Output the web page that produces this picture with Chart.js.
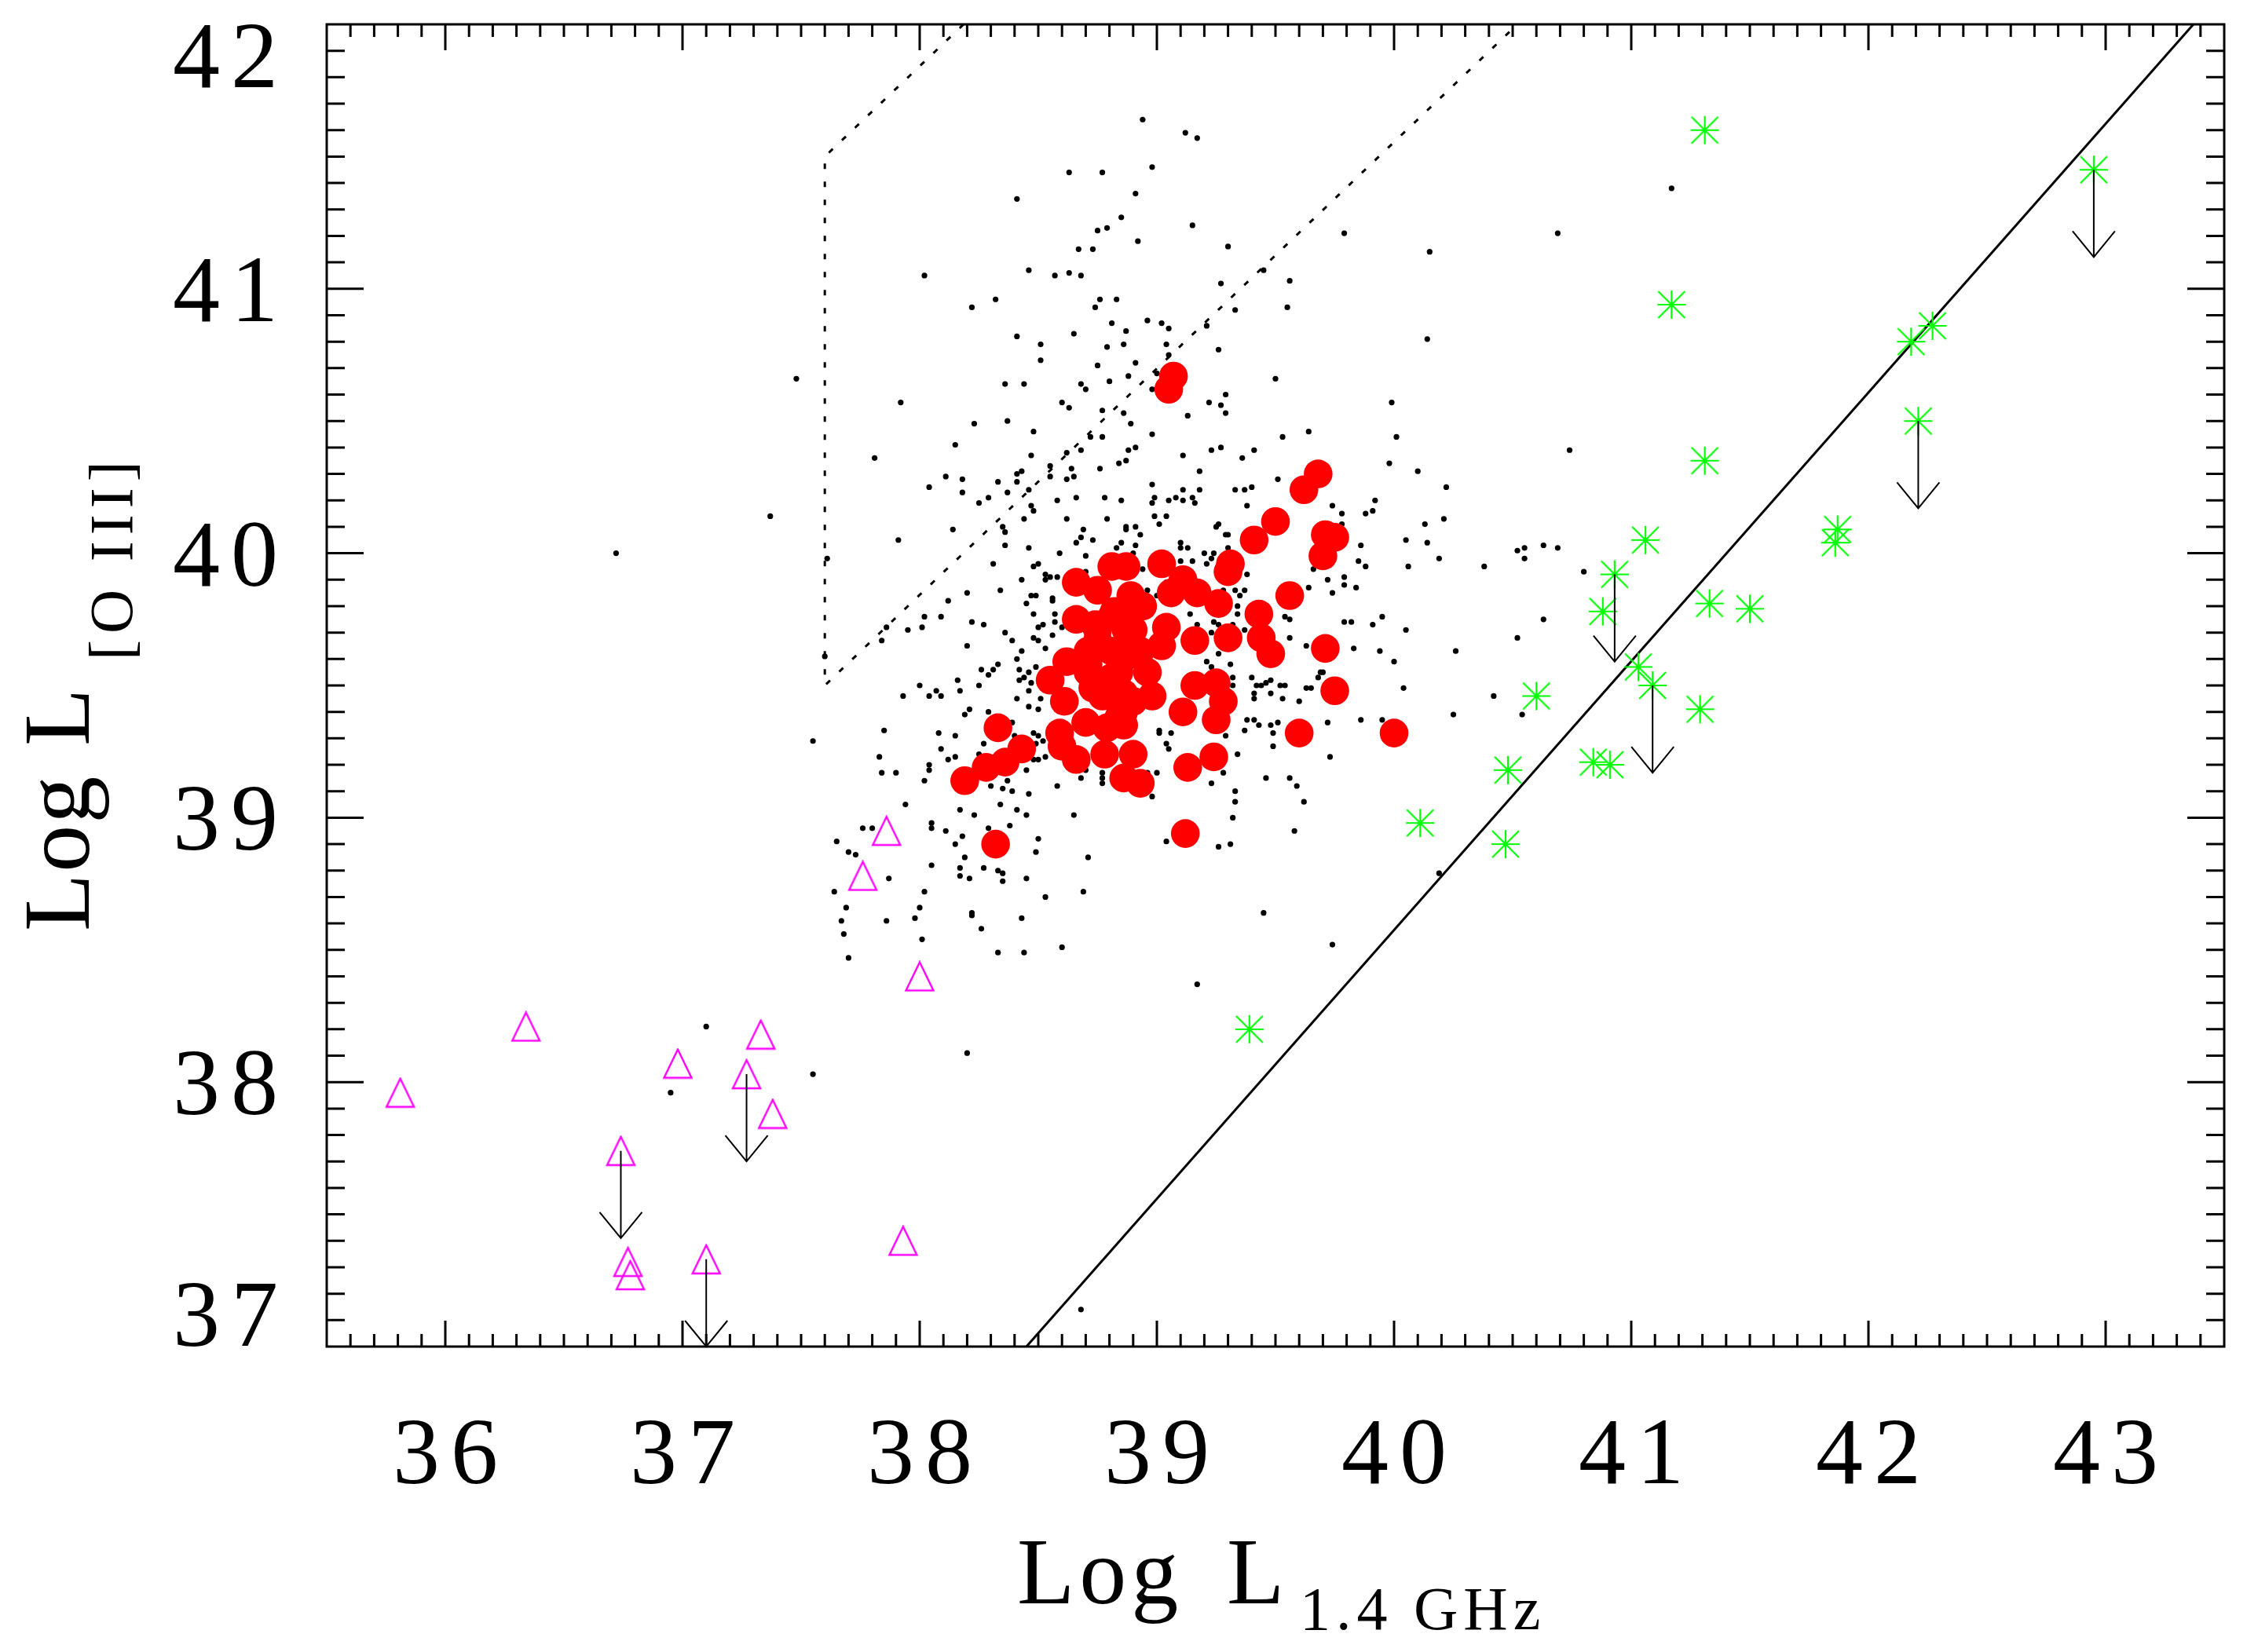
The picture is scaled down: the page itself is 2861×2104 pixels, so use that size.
<!DOCTYPE html>
<html>
<head>
<meta charset="utf-8">
<title>Log L[O III] vs Log L1.4GHz</title>
<script src="https://cdn.jsdelivr.net/npm/chart.js@4.4.1/dist/chart.umd.min.js"></script>
<style>
    html, body { margin: 0; padding: 0; background: #ffffff; }
    #wrap { width: 2861px; height: 2104px; }
</style>
</head>
<body>
<div id="wrap"><canvas id="chart" width="2861" height="2104"></canvas></div>
<script>
// Axis ranges and tick labels
const xRange = [35.5, 43.5];
const yRange = [37, 42];
const xTickLabels = ['36', '37', '38', '39', '40', '41', '42', '43'];
const yTickLabels = ['37', '38', '39', '40', '41', '42'];

// Black dots: comparison sample [log L1.4GHz, log L[OIII]]
const blackPts = [
    [38.94,41.64],[38.63,41.44],[38.77,41.44],[38.98,41.46],[38.91,41.36],[38.41,41.34],[38.85,41.27],[38.75,41.22],
    [38.79,41.23],[38.92,41.18],[38.67,41.15],[38.73,41.15],[38.02,41.05],[38.46,41.07],[38.57,41.05],[38.63,41.06],
    [38.68,41.05],[38.32,40.96],[38.22,40.93],[38.76,40.96],[38.83,40.96],[38.74,40.93],[38.96,40.88],[39.02,40.87],
    [39.05,40.85],[38.81,40.87],[38.87,40.84],[38.65,40.83],[38.41,40.82],[38.51,40.79],[38.79,40.78],[38.86,40.79],
    [39.04,40.79],[39.05,40.75],[38.51,40.73],[38.91,40.72],[38.75,40.71],[39.00,40.68],[38.88,40.67],[38.80,40.65],
    [37.48,40.66],[38.36,40.64],[38.44,40.64],[38.68,40.64],[38.70,40.62],[38.98,40.62],[37.92,40.57],[38.60,40.57],
    [38.63,40.55],[38.77,40.54],[38.86,40.53],[38.89,40.49],[38.23,40.49],[38.37,40.50],[38.48,40.46],[38.72,40.44],
    [38.77,40.44],[38.98,40.45],[38.15,40.41],[37.81,40.36],[38.62,40.38],[38.68,40.39],[38.88,40.39],[38.91,40.40],
    [38.47,40.37],[38.55,40.33],[38.64,40.32],[38.76,40.32],[38.84,40.34],[38.87,40.35],[38.41,40.30],[38.43,40.31],
    [38.11,40.29],[38.18,40.28],[38.04,40.25],[38.33,40.27],[38.41,40.27],[38.55,40.29],[38.62,40.28],[38.65,40.29],
    [38.98,40.26],[38.18,40.23],[38.37,40.23],[38.46,40.24],
    [39.12,41.59],[39.17,41.57],[39.15,41.24],[39.30,41.16],[39.79,41.21],[40.69,41.21],[40.15,41.14],[39.45,41.07],
    [39.27,41.02],[39.56,41.03],[39.33,40.92],[39.55,40.93],[39.21,40.86],[40.14,40.81],[39.26,40.77],[39.50,40.66],
    [39.29,40.60],[39.22,40.57],[39.27,40.56],[39.29,40.53],[39.13,40.52],[39.99,40.57],[39.53,40.44],[39.64,40.46],
    [40.01,40.44],[40.74,40.39],[39.11,40.37],[39.23,40.39],[39.27,40.40],[39.36,40.36],[39.41,40.39],[39.18,40.31],
    [39.98,40.34],[40.10,40.31],[39.51,40.28],[39.11,40.24],[39.18,40.24],[39.33,40.24],[39.37,40.24],[39.40,40.25],
    [40.22,40.25],
    [38.25,40.19],[38.29,40.21],[38.58,40.20],[38.66,40.21],[38.78,40.21],[38.85,40.20],[38.99,40.21],[39.05,40.20],
    [38.98,40.19],[39.08,40.21],[38.47,40.18],[38.48,40.16],[38.44,40.13],[38.62,40.13],[38.79,40.13],[38.99,40.14],
    [39.04,40.14],[39.01,40.11],[38.14,40.09],[37.91,40.05],[38.35,40.10],[38.36,40.08],[38.69,40.09],[38.68,40.06],
    [38.87,40.10],[38.91,40.10],[38.93,40.07],[38.87,40.09],[38.66,40.04],[38.73,40.05],[38.85,40.04],[38.91,40.03],
    [38.36,40.03],[38.46,40.02],[38.59,40.00],[38.70,39.99],[38.83,40.02],[38.90,40.00],[37.61,39.98],[38.31,39.96],
    [38.48,39.95],[38.50,39.96],[38.70,39.93],[38.94,39.94],[38.53,39.92],[38.55,39.91],[38.58,39.91],[38.53,39.90],
    [38.43,39.90],[39.04,39.89],[38.34,39.86],[38.20,39.85],[38.96,39.86],[38.47,39.84],[38.49,39.84],[38.45,39.81],
    [38.56,39.83],[38.56,39.82],[39.00,39.84],[38.12,39.82],[38.48,39.77],[38.57,39.77],[38.02,39.76],[38.09,39.76],
    [38.22,39.74],[38.27,39.73],[38.57,39.74],[38.52,39.73],[37.95,39.71],[38.01,39.72],[38.50,39.72],[38.60,39.72],
    [37.86,39.72],[37.84,39.67],[38.36,39.70],[38.39,39.67],[38.56,39.69],[38.48,39.68],[38.50,39.67],[38.20,39.65],
    [38.43,39.63],[38.53,39.64],[37.60,39.61],[38.41,39.60],[38.49,39.57],[38.33,39.58],[38.26,39.56],[38.31,39.56],
    [38.29,39.54],[38.42,39.56],[38.46,39.55],[38.42,39.52],[38.44,39.53],[38.16,39.52],[38.00,39.50],[38.25,39.50],
    [38.47,39.51],[38.07,39.48],[38.04,39.46],[38.09,39.46],[37.93,39.46],[38.17,39.48],[38.46,39.48],[38.41,39.45],
    [38.51,39.45],[38.46,39.42],[38.50,39.41],[38.70,39.46],[38.21,39.41],[38.19,39.39],[38.29,39.40],[38.39,39.36],
    [38.40,39.31],[38.48,39.32],[38.50,39.31],[39.01,39.33],[39.01,39.32],[39.06,39.32],[37.85,39.33],[38.08,39.32],
    [38.15,39.31],[38.27,39.28],[38.52,39.29],[38.49,39.28],[39.04,39.28],[39.05,39.26],[37.55,39.29],[37.83,39.23],
    [38.09,39.26],[38.15,39.23],[38.12,39.22],[38.25,39.24],[38.04,39.20],[38.04,39.18],[37.84,39.17],[37.90,39.17],
    [38.02,39.14],[38.48,39.22],[38.50,39.22],[38.53,39.23],[38.45,39.18],[38.70,39.18],[38.68,39.15],[38.77,39.17],
    [38.77,39.15],[38.77,39.13],[38.96,39.17],[39.00,39.17],[38.98,39.08],[38.30,39.12],[38.37,39.14],[38.35,39.11],
    [38.39,39.10],[38.46,39.09],[38.58,39.12],[37.94,39.05],[38.17,39.03],[38.23,39.01],[38.34,39.05],[38.41,39.03],
    [38.45,39.01],[38.65,39.01],[38.05,38.98],[38.05,38.96],[38.11,38.95],[37.76,38.96],[37.80,38.96],[38.18,38.93],
    [38.15,38.90],[38.29,38.96],[38.38,38.97],[38.50,38.92],[39.04,38.91],[37.65,38.91],[37.70,38.87],[37.73,38.86],
    [38.49,38.87],[38.19,38.85],[38.71,38.85],[38.05,38.82],[38.17,38.81],[38.27,38.81],[38.33,38.80],[38.35,38.79],
    [37.87,38.77],[38.17,38.78],[38.21,38.77],[38.35,38.76],[38.45,38.77],
    [39.11,40.20],[39.15,40.21],[39.16,40.19],[39.38,40.18],[39.74,40.18],[39.78,40.15],[39.88,40.15],[39.91,40.16],
    [39.92,40.20],[40.21,40.13],[40.13,40.11],[39.78,40.11],[39.25,40.10],[39.26,40.11],[39.29,40.07],[39.30,40.07],
    [39.10,40.04],[39.10,40.02],[39.13,40.02],[39.20,40.00],[39.24,40.00],[39.23,39.98],[39.30,40.02],[39.21,39.96],
    [39.10,39.97],[39.15,39.97],[39.86,40.03],[39.85,39.97],[39.88,39.95],[40.05,40.05],[40.14,40.04],[40.19,39.98],
    [40.06,39.95],[40.38,39.95],[40.52,40.01],[40.55,40.02],[40.55,39.98],[40.63,40.03],[40.69,40.02],[39.66,39.94],
    [39.38,39.92],[39.72,39.90],[39.79,39.91],[39.79,39.88],[39.84,39.87],[39.74,39.85],[39.64,39.87],[39.33,39.86],
    [39.37,39.86],[39.35,39.84],[39.34,39.80],[39.34,39.77],[39.28,39.86],[39.14,39.77],[39.17,39.73],[39.24,39.74],
    [39.26,39.73],[39.32,39.73],[39.37,39.71],[39.23,39.70],[39.54,39.76],[39.56,39.75],[39.56,39.68],[39.63,39.65],
    [39.79,39.74],[39.82,39.74],[39.91,39.73],[39.95,39.76],[40.05,39.71],[39.83,39.64],[39.94,39.63],[40.00,39.59],
    [40.26,39.63],[40.52,39.68],[40.63,39.75],[39.26,39.62],[39.21,39.59],[39.23,39.57],[39.31,39.58],[39.40,39.53],
    [39.32,39.53],[39.32,39.50],[39.42,39.50],[39.44,39.50],[39.46,39.51],[39.48,39.52],[39.52,39.50],[39.54,39.50],
    [39.48,39.47],[39.41,39.47],[39.41,39.45],[39.53,39.45],[39.60,39.44],[39.63,39.49],[39.65,39.49],[39.68,39.53],
    [39.69,39.55],[39.70,39.55],[40.04,39.49],[40.42,39.46],[40.25,39.39],[40.54,39.39],[39.86,39.37],[39.95,39.37],
    [39.72,39.36],[39.38,39.37],[39.41,39.37],[39.43,39.35],[39.48,39.35],[39.51,39.36],[39.49,39.32],[39.37,39.33],
    [39.29,39.31],[39.49,39.27],[39.73,39.23],[39.34,39.24],[39.28,39.17],[39.23,39.13],[39.46,39.15],[39.56,39.15],
    [39.59,39.12],[39.33,39.10],[39.33,39.06],[39.62,39.06],[39.32,39.00],[39.58,38.95],[39.26,38.89],[39.31,38.90],
    [40.19,38.79],
    [37.64,38.72],[37.69,38.66],[37.67,38.61],[37.68,38.56],[37.70,38.47],[37.86,38.61],[37.98,38.62],[38.00,38.66],
    [38.02,38.72],[38.01,38.54],[38.22,38.64],[38.22,38.63],[38.26,38.58],[38.43,38.62],[38.53,38.70],[38.69,38.72],
    [38.33,38.49],[38.44,38.49],[38.60,38.51],[38.20,38.11],[37.55,38.03],
    [39.45,38.64],[39.74,38.52],[39.17,38.37],
    [37.10,38.21],[36.95,37.96],[36.72,40.00],[37.37,40.14],[41.17,41.38],[40.80,39.93],[38.68,37.14]
];

// Red filled circles: main sample
const redPts = [
    [39.50,40.12],[39.41,40.05],[39.71,40.07],[39.75,40.06],[39.70,39.99],[39.31,39.96],[39.30,39.93],[39.11,39.90],
    [39.17,39.85],[39.26,39.81],[39.56,39.84],[39.43,39.77],[39.16,39.67],[39.30,39.68],[39.44,39.68],[39.48,39.62],
    [39.71,39.64],[39.16,39.50],[39.25,39.51],[39.28,39.44],[39.11,39.40],[39.25,39.37],[39.75,39.48],[39.60,39.32],
    [40.00,39.32],[39.13,39.19],[39.24,39.23],[39.12,38.94],
    [38.33,39.34],[38.19,39.14],[38.28,39.19],[38.36,39.21],[38.43,39.26],[38.32,38.90],[38.55,39.52],[38.61,39.44],
    [38.59,39.32],[38.60,39.27],[38.66,39.22],[38.70,39.36],[38.79,39.34],[38.78,39.24],[38.86,39.35],[38.90,39.24],
    [38.86,39.15],[38.93,39.13],[38.81,39.95],[38.87,39.95],[39.02,39.96],[38.66,39.89],[38.75,39.86],[38.89,39.84],
    [38.94,39.80],[38.82,39.78],[38.66,39.75],[38.87,39.71],[38.74,39.73],[38.75,39.67],[38.87,39.61],[38.62,39.59],
    [38.71,39.58],[38.81,39.53],[38.73,39.49],[38.77,39.46],[38.86,39.47],[38.98,39.46],[38.86,39.40],[39.06,39.85],
    [39.02,39.65],[39.04,39.72],
    [38.75,39.71],[38.81,39.63],[38.90,39.71],[38.84,39.55],[38.71,39.55],[38.78,39.47],[38.90,39.44],[38.96,39.55],
    [38.93,39.63],[38.71,39.63],[38.87,39.79],[38.81,39.76],[38.84,39.38],
    [39.05,40.62],[39.07,40.67],[39.68,40.30],[39.62,40.24]
];

// Green asterisks: [x, y, upper limit flag]
const greenPts = [
    [41.31,41.60,0],[41.17,40.94,0],[42.95,41.45,1],[42.27,40.86,0],[42.18,40.80,0],[42.21,40.50,1],
    [41.31,40.35,0],[41.87,40.09,0],[41.86,40.04,0],[41.06,40.05,0],[40.93,39.92,1],[40.88,39.78,0],
    [41.33,39.81,0],[41.50,39.79,0],[41.03,39.57,0],[41.09,39.50,1],[41.29,39.41,0],[40.84,39.21,0],
    [40.91,39.20,0],[40.48,39.18,0],[40.47,38.90,0],[40.11,38.98,0],[40.60,39.46,0],[39.39,38.20,0]
];

// Magenta open triangles: [x, y, upper limit flag]
const magentaPts = [
    [35.81,37.96,0],[36.34,38.21,0],[36.98,38.07,0],[37.33,38.18,0],[37.27,38.03,1],[37.38,37.88,0],
    [36.74,37.74,1],[36.77,37.32,0],[36.78,37.27,0],[37.10,37.33,1],[37.93,37.40,0],[38.00,38.40,0],
    [37.76,38.78,0],[37.86,38.95,0]
];

// Reference lines
const solidLineX = [38.45, 43.37];
const solidLineY = [37, 42];
const dottedBoxX = [38.185, 37.6, 37.6, 40.52];
const dottedBoxY = [42, 41.5, 39.5, 42];

// Length of the upper-limit arrows, in dex
const ARROW_DEX = 0.33;

const SERIF = '"Liberation Serif", "DejaVu Serif", serif';

function toXY(list) {
    return list.map(p => ({ x: p[0], y: p[1] }));
}

function zipXY(xs, ys) {
    return xs.map((x, i) => ({ x: x, y: ys[i] }));
}

// Asterisk marker (plus and cross)
function makeStar() {
    const c = document.createElement('canvas');
    c.width = 40; c.height = 40;
    const g = c.getContext('2d');
    g.strokeStyle = '#00ff00';
    g.lineWidth = 2.2;
    g.beginPath();
    g.moveTo(2, 20); g.lineTo(38, 20);
    g.moveTo(20, 2); g.lineTo(20, 38);
    g.moveTo(3, 3); g.lineTo(37, 37);
    g.moveTo(37, 3); g.lineTo(3, 37);
    g.stroke();
    return c;
}

// Open triangle marker
function makeTriangle() {
    const c = document.createElement('canvas');
    c.width = 40; c.height = 40;
    const g = c.getContext('2d');
    g.strokeStyle = '#ff00ff';
    g.lineWidth = 2.4;
    g.beginPath();
    g.moveTo(20, 2);
    g.lineTo(37.5, 38);
    g.lineTo(2.5, 38);
    g.closePath();
    g.stroke();
    return c;
}

function setSpacing(ctx, px) {
    if ('letterSpacing' in ctx) ctx.letterSpacing = px + 'px';
}

// Upper-limit arrows
const arrowPlugin = {
    id: 'arrows',
    afterDatasetsDraw(chart) {
        const ctx = chart.ctx;
        const xs = chart.scales.x, ys = chart.scales.y;
        const limits = greenPts.concat(magentaPts).filter(p => p[2] === 1);
        ctx.save();
        ctx.strokeStyle = '#000000';
        ctx.lineWidth = 2;
        limits.forEach(p => {
            const px = xs.getPixelForValue(p[0]);
            const py = ys.getPixelForValue(p[1]);
            const ey = ys.getPixelForValue(p[1] - ARROW_DEX);
            ctx.beginPath();
            ctx.moveTo(px, py);
            ctx.lineTo(px, ey);
            ctx.moveTo(px - 27, ey - 33);
            ctx.lineTo(px, ey);
            ctx.lineTo(px + 27, ey - 33);
            ctx.stroke();
        });
        ctx.restore();
    }
};

// Frame, inward ticks, tick labels and axis titles
const framePlugin = {
    id: 'frame',
    afterDraw(chart) {
        const ctx = chart.ctx;
        const a = chart.chartArea;
        const xs = chart.scales.x, ys = chart.scales.y;
        ctx.save();
        ctx.strokeStyle = '#000000';
        ctx.lineWidth = 3;
        ctx.strokeRect(a.left, a.top, a.right - a.left, a.bottom - a.top);

        // x ticks every 0.1, major at integers
        for (let i = Math.round(xRange[0] * 10) + 1; i < Math.round(xRange[1] * 10); i++) {
            const px = xs.getPixelForValue(i / 10);
            const len = (i % 10 === 0) ? 33 : 16;
            ctx.beginPath();
            ctx.moveTo(px, a.bottom); ctx.lineTo(px, a.bottom - len);
            ctx.moveTo(px, a.top); ctx.lineTo(px, a.top + len);
            ctx.stroke();
        }
        // y ticks every 0.1, major at integers
        for (let i = Math.round(yRange[0] * 10) + 1; i < Math.round(yRange[1] * 10); i++) {
            const py = ys.getPixelForValue(i / 10);
            const len = (i % 10 === 0) ? 47 : 23;
            ctx.beginPath();
            ctx.moveTo(a.left, py); ctx.lineTo(a.left + len, py);
            ctx.moveTo(a.right, py); ctx.lineTo(a.right - len, py);
            ctx.stroke();
        }

        ctx.fillStyle = '#000000';
        ctx.font = '120px ' + SERIF;
        setSpacing(ctx, 14);

        // x tick labels
        ctx.textAlign = 'center';
        ctx.textBaseline = 'alphabetic';
        xTickLabels.forEach(t => {
            const px = xs.getPixelForValue(parseFloat(t));
            ctx.fillText(t, px + 7, 1889);
        });

        // y tick labels (end labels kept inside the frame height)
        ctx.textAlign = 'right';
        yTickLabels.forEach(t => {
            const v = parseFloat(t);
            let base = ys.getPixelForValue(v) + 41;
            if (v === yRange[1]) base = a.top + 80;
            if (v === yRange[0]) base = a.bottom - 1;
            ctx.fillText(t, 368, base);
        });

        // x axis title
        ctx.textAlign = 'left';
        setSpacing(ctx, 6);
        ctx.fillText('Log', 1295, 2042);
        ctx.fillText('L', 1562, 2042);
        ctx.font = '78px ' + SERIF;
        setSpacing(ctx, 7);
        ctx.fillText('1.4 GHz', 1655, 2075);

        // y axis title (rotated)
        ctx.translate(113, 1186);
        ctx.rotate(-Math.PI / 2);
        ctx.font = '120px ' + SERIF;
        setSpacing(ctx, 2);
        ctx.fillText('Log', 0, 0);
        ctx.fillText('L', 236, 0);
        ctx.font = '78px ' + SERIF;
        setSpacing(ctx, 8);
        ctx.fillText('[O III]', 345, 55);
        ctx.restore();
    }
};

function initializeChart() {
    const ctx = document.getElementById('chart').getContext('2d');

    // Datasets listed top-most first (Chart.js draws the first one last)
    const datasets = [
        {
            label: 'triangles',
            data: toXY(magentaPts),
            pointStyle: makeTriangle(),
            pointRadius: 20
        },
        {
            label: 'asterisks',
            data: toXY(greenPts),
            pointStyle: makeStar(),
            pointRadius: 20
        },
        {
            label: 'red',
            data: toXY(redPts),
            pointRadius: 18.3,
            backgroundColor: '#ff0000',
            borderWidth: 0
        },
        {
            label: 'solid line',
            data: zipXY(solidLineX, solidLineY),
            showLine: true,
            pointRadius: 0,
            borderColor: '#000000',
            borderWidth: 3
        },
        {
            label: 'dotted box',
            data: zipXY(dottedBoxX, dottedBoxY),
            showLine: true,
            pointRadius: 0,
            borderColor: '#000000',
            borderWidth: 3,
            borderDash: [7, 16]
        },
        {
            label: 'black',
            data: toXY(blackPts),
            pointRadius: 3.6,
            backgroundColor: '#000000',
            borderWidth: 0
        }
    ];

    new Chart(ctx, {
        type: 'scatter',
        data: { datasets: datasets },
        options: {
            responsive: false,
            animation: false,
            devicePixelRatio: 1,
            layout: { padding: { left: 416, top: 31, right: 29, bottom: 389 } },
            scales: {
                x: { type: 'linear', min: xRange[0], max: xRange[1], display: false },
                y: { type: 'linear', min: yRange[0], max: yRange[1], display: false }
            },
            plugins: {
                legend: { display: false },
                tooltip: { enabled: false }
            },
            events: []
        },
        plugins: [arrowPlugin, framePlugin]
    });
}

document.addEventListener('DOMContentLoaded', function() {
    initializeChart();
});
</script>
</body>
</html>
